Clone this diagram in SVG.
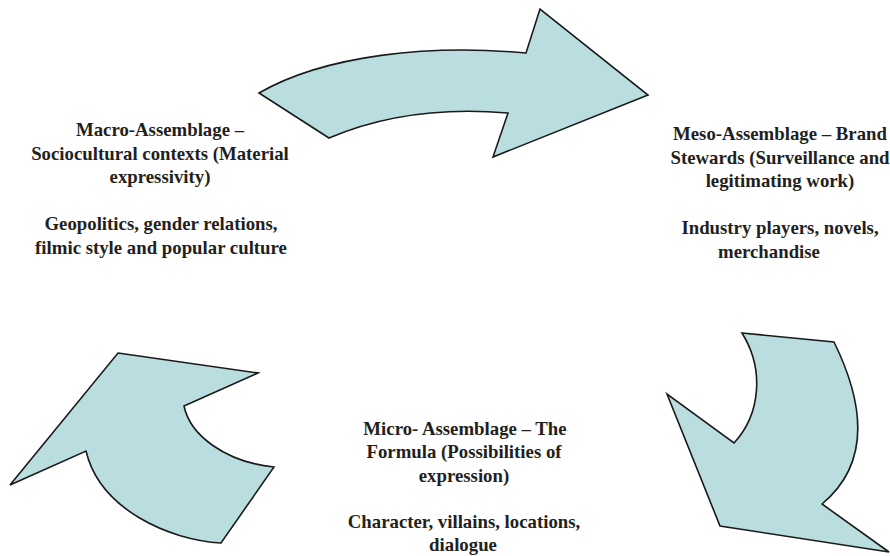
<svg xmlns="http://www.w3.org/2000/svg" width="890" height="556" viewBox="0 0 890 556">
<style>
.arrow{fill:#badee0;stroke:#1a1a1a;stroke-width:1.6;stroke-linejoin:miter}
.lbl{font-family:"Liberation Serif","Times New Roman",serif;font-weight:bold;font-size:18.8px;fill:#231f20;text-anchor:middle}
</style>
<rect width="890" height="556" fill="#ffffff"/>
<g id="connectors">
<path id="arrow-top" class="arrow" d="M259,93 C325,55 430,44 526,53 L540,9 L648,95 L493,157 L508,113 C450,108 390,112 329,138 Z"/>
<path id="arrow-right" class="arrow" d="M742,333 L834,342 C860,395 875,460 822,504 L889,552 L720,526 L667,394 L734,443 C760,415 765,370 742,333 Z"/>
<path id="arrow-left" class="arrow" d="M118,353 L258,373 L184,406 C190,435 225,462 274,467 L221,543 C170,540 100,510 86,451 L10,485 Z"/>
</g>
<g id="macro">
<text class="lbl" x="160" y="136">Macro-Assemblage –</text>
<text class="lbl" x="160" y="159.5">Sociocultural contexts (Material</text>
<text class="lbl" x="160" y="183">expressivity)</text>
<text class="lbl" x="161" y="230">Geopolitics, gender relations,</text>
<text class="lbl" x="161" y="253.5">filmic style and popular culture</text>
</g>
<g id="meso">
<text class="lbl" x="780" y="140">Meso-Assemblage – Brand</text>
<text class="lbl" x="780" y="163.5">Stewards (Surveillance and</text>
<text class="lbl" x="780" y="187">legitimating work)</text>
<text class="lbl" x="780" y="234">Industry players, novels,</text>
<text class="lbl" x="769" y="257.5">merchandise</text>
</g>
<g id="micro">
<text class="lbl" x="465" y="434.5">Micro- Assemblage – The</text>
<text class="lbl" x="464" y="458">Formula (Possibilities of</text>
<text class="lbl" x="464" y="481.5">expression)</text>
<text class="lbl" x="464" y="528">Character, villains, locations,</text>
<text class="lbl" x="463" y="551">dialogue</text>
</g>
</svg>
